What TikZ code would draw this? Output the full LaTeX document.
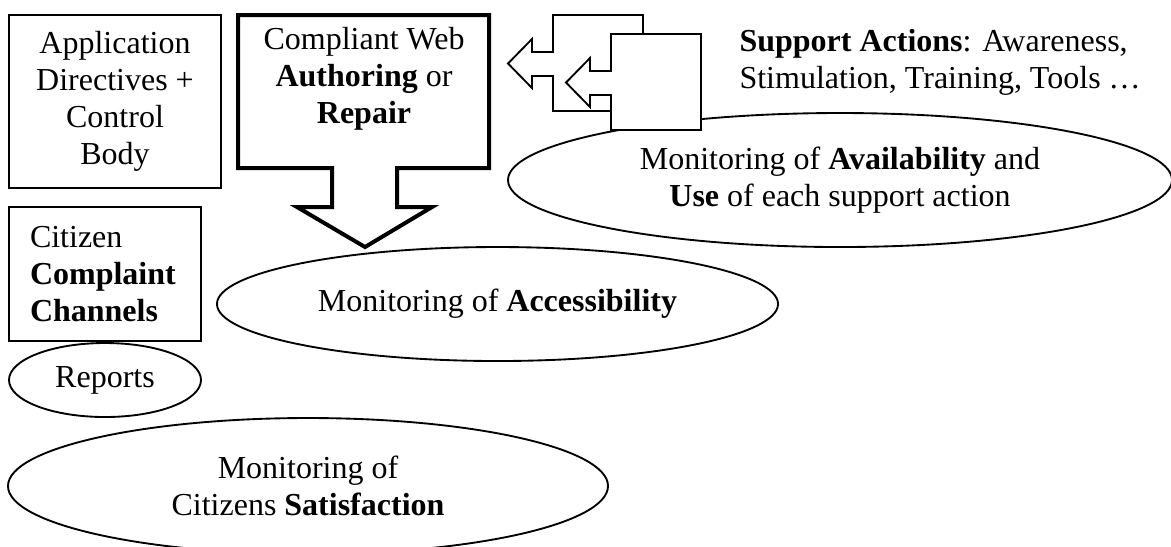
\documentclass[tikz,border=0pt]{standalone}
\usepackage{fontspec}
\setmainfont{Liberation Serif}
\usetikzlibrary{shapes.geometric}

\begin{document}
\begin{tikzpicture}[x=0.375pt,y=-0.375pt,
  every node/.style={font=\fontsize{12}{13.8}\selectfont,inner sep=0pt},
  thinline/.style={line width=0.7pt},
  box/.style={draw,thinline},
  oval/.style={draw,thinline,ellipse,fill=white,align=center},
  callout/.style={draw,thinline,fill=white,line join=miter}]
  \clip (0,0) rectangle (1171,546);
  % left column
  \node[box,minimum width=79.5pt,minimum height=64.9pt,align=center]
    (directives) at (115,101.5) {Application\\Directives +\\Control\\Body};
  \node[box,minimum width=72pt,minimum height=50.25pt,text width=56.25pt,
    inner xsep=7.875pt,align=left] (channels) at (105,274)
    {Citizen\\\textbf{Complaint}\\\textbf{Channels}};
  \node[oval,minimum width=72pt,minimum height=27.75pt] (reports)
    at (105,380) {Reports};
  \node[oval,minimum width=225pt,minimum height=51pt] (satisfaction)
    at (308,486) {Monitoring of\\Citizens \textbf{Satisfaction}};
  % monitoring ellipses
  \node[oval,minimum width=249pt,minimum height=50.25pt] (availability)
    at (840,180) {Monitoring of \textbf{Availability} and\\
    \textbf{Use} of each support action};
  \node[oval,minimum width=210.4pt,minimum height=42.75pt] (accessibility)
    at (497.5,304) {Monitoring of \textbf{Accessibility}};
  % down arrow callout
  \draw[line width=1.5pt,line join=miter,fill=white]
    (238,15) -- (489,15) -- (489,168) -- (397,168) -- (397,207)
    -- (432,207) -- (365,247) -- (297,207) -- (332,207) -- (332,168)
    -- (238,168) -- cycle;
  \node[align=center] (authoring) at (364,79)
    {Compliant Web\\\textbf{Authoring} or\\\textbf{Repair}};
  % left arrow callouts
  \foreach \dx/\dy in {0/0,58/19}
    \draw[callout,shift={(\dx,\dy)}]
      (553,15) -- (643,15) -- (643,111) -- (553,111) -- (553,76)
      -- (532,76) -- (532,88) -- (508,63.5) -- (532,39) -- (532,52)
      -- (553,52) -- cycle;
  \node[anchor=west,align=left] (support) at (739,62)
    {\textbf{Support Actions}: Awareness,\\Stimulation, Training, Tools …};
\end{tikzpicture}
\end{document}
